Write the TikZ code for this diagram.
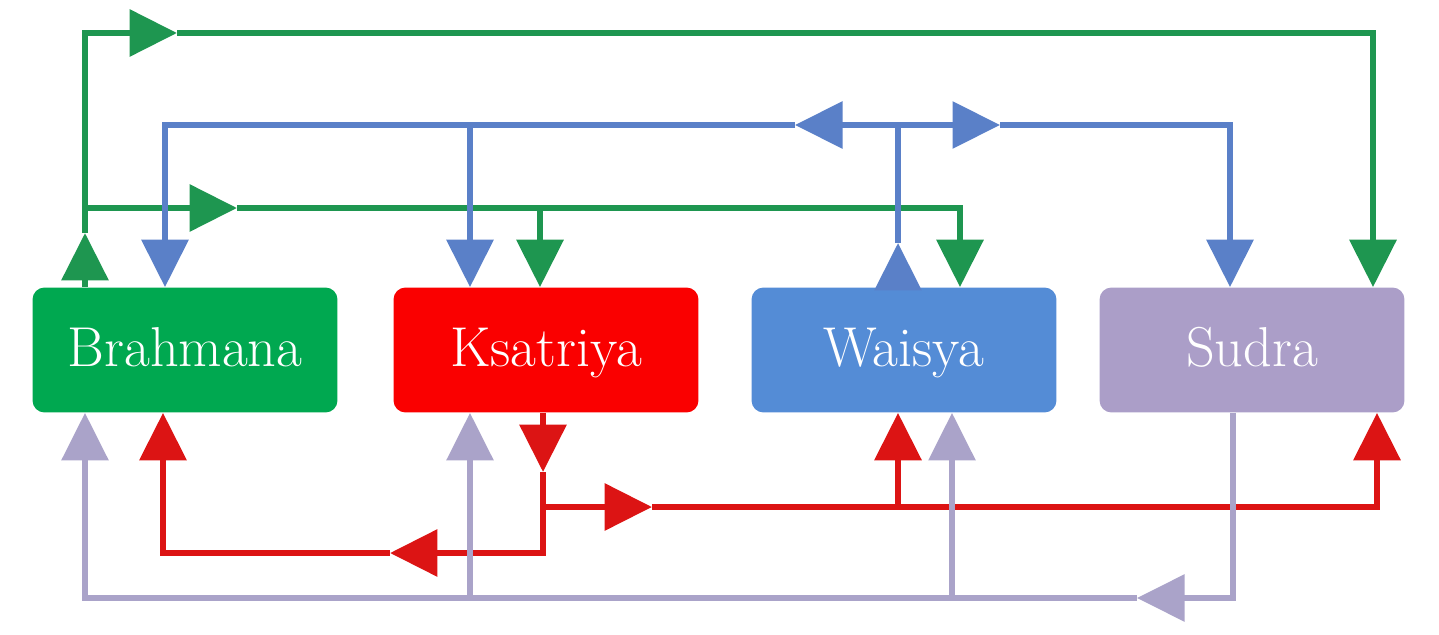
\documentclass[tikz,border=0pt]{standalone}
\usepackage{tikz}
\usetikzlibrary{arrows.meta}
\definecolor{brgreen}{RGB}{0,168,80}
\definecolor{ksred}{RGB}{250,0,0}
\definecolor{wsblue}{RGB}{84,140,214}
\definecolor{sdlav}{RGB}{171,158,200}
\definecolor{lngreen}{RGB}{30,150,80}
\definecolor{lnblue}{RGB}{90,128,200}
\definecolor{lnred}{RGB}{220,20,20}
\definecolor{lnlav}{RGB}{170,163,201}
\tikzset{caste/.style={rounded corners=0.24cm, minimum width=6.1cm, minimum height=2.5cm,
    inner sep=0pt, text height=25pt, text depth=6pt, text=white,
    font=\fontsize{32}{36}\selectfont}}
\tikzset{gline/.style={line width=3.8pt, draw=lngreen},
  bline/.style={line width=3.6pt, draw=lnblue},
  rline/.style={line width=3.8pt, draw=lnred},
  sline/.style={line width=3.4pt, draw=lnlav}}

\begin{document}
\begin{tikzpicture}[x=0.02cm,y=-0.02cm,>={Triangle[length=0.95cm,width=0.92cm]}]
  \useasboundingbox (0,0) rectangle (1439,635);

  \node[caste,fill=brgreen] (B) at (185,350) {Brahmana};
  \node[caste,fill=ksred] (K) at (546,350) {Ksatriya};
  \node[caste,fill=wsblue] (W) at (904,350) {Waisya};
  \node[caste,fill=sdlav] (S) at (1252,350) {Sudra};

  \coordinate (gUp) at (85,233);
  \coordinate (gTop) at (85,33);
  \coordinate (gTopArr) at (177,33);
  \coordinate (gTopEnd) at (1373,33);
  \coordinate (gMid) at (85,208);
  \coordinate (gMidArr) at (237,208);
  \coordinate (gMidEnd) at (960,208);
  \coordinate (gMidK) at (540,208);

  \draw[gline,->] (gUp |- B.north) -- (gUp);
  \draw[gline,->] (gUp) -- (gTop) -- (gTopArr);
  \draw[gline,->] (gTopArr) -- (gTopEnd) -- (gTopEnd |- S.north);
  \draw[gline,->] (gMid) -- (gMidArr);
  \draw[gline,->] (gMidArr) -- (gMidEnd) -- (gMidEnd |- W.north);
  \draw[gline,->] (gMidK) -- (gMidK |- K.north);

  \coordinate (bUp) at (898,243);
  \coordinate (bJoin) at (898,125);
  \coordinate (bLeftArr) at (795,125);
  \coordinate (bRightArr) at (1000,125);
  \coordinate (bLeftEnd) at (165,125);
  \coordinate (bRightEnd) at (1230,125);
  \coordinate (bK) at (470,125);

  \draw[bline,->] (bUp |- W.north) -- (bUp);
  \draw[bline,->] (bUp) -- (bJoin) -- (bLeftArr);
  \draw[bline,->] (bLeftArr) -- (bLeftEnd) -- (bLeftEnd |- B.north);
  \draw[bline,->] (bK) -- (bK |- K.north);
  \draw[bline,->] (bJoin) -- (bRightArr);
  \draw[bline,->] (bRightArr) -- (bRightEnd) -- (bRightEnd |- S.north);

  \coordinate (rDown) at (543,472);
  \coordinate (rLow) at (543,553);
  \coordinate (rLeftArr) at (390,553);
  \coordinate (rLeftEnd) at (163,553);
  \coordinate (rMid) at (543,507);
  \coordinate (rRightArr) at (652,507);
  \coordinate (rRightEnd) at (1377,507);
  \coordinate (rW) at (898,507);

  \draw[rline,->] (rDown |- K.south) -- (rDown);
  \draw[rline,->] (rDown) -- (rLow) -- (rLeftArr);
  \draw[rline,->] (rLeftArr) -- (rLeftEnd) -- (rLeftEnd |- B.south);
  \draw[rline,->] (rMid) -- (rRightArr);
  \draw[rline,->] (rRightArr) -- (rRightEnd) -- (rRightEnd |- S.south);
  \draw[rline,->] (rW) -- (rW |- W.south);

  \coordinate (sDown) at (1233,598);
  \coordinate (sLeftArr) at (1137,598);
  \coordinate (sLeftEnd) at (85,598);
  \coordinate (sK) at (470,598);
  \coordinate (sW) at (952,598);

  \draw[sline,->] (sDown |- S.south) -- (sDown) -- (sLeftArr);
  \draw[sline,->] (sLeftArr) -- (sLeftEnd) -- (sLeftEnd |- B.south);
  \draw[sline,->] (sK) -- (sK |- K.south);
  \draw[sline,->] (sW) -- (sW |- W.south);

\end{tikzpicture}
\end{document}
